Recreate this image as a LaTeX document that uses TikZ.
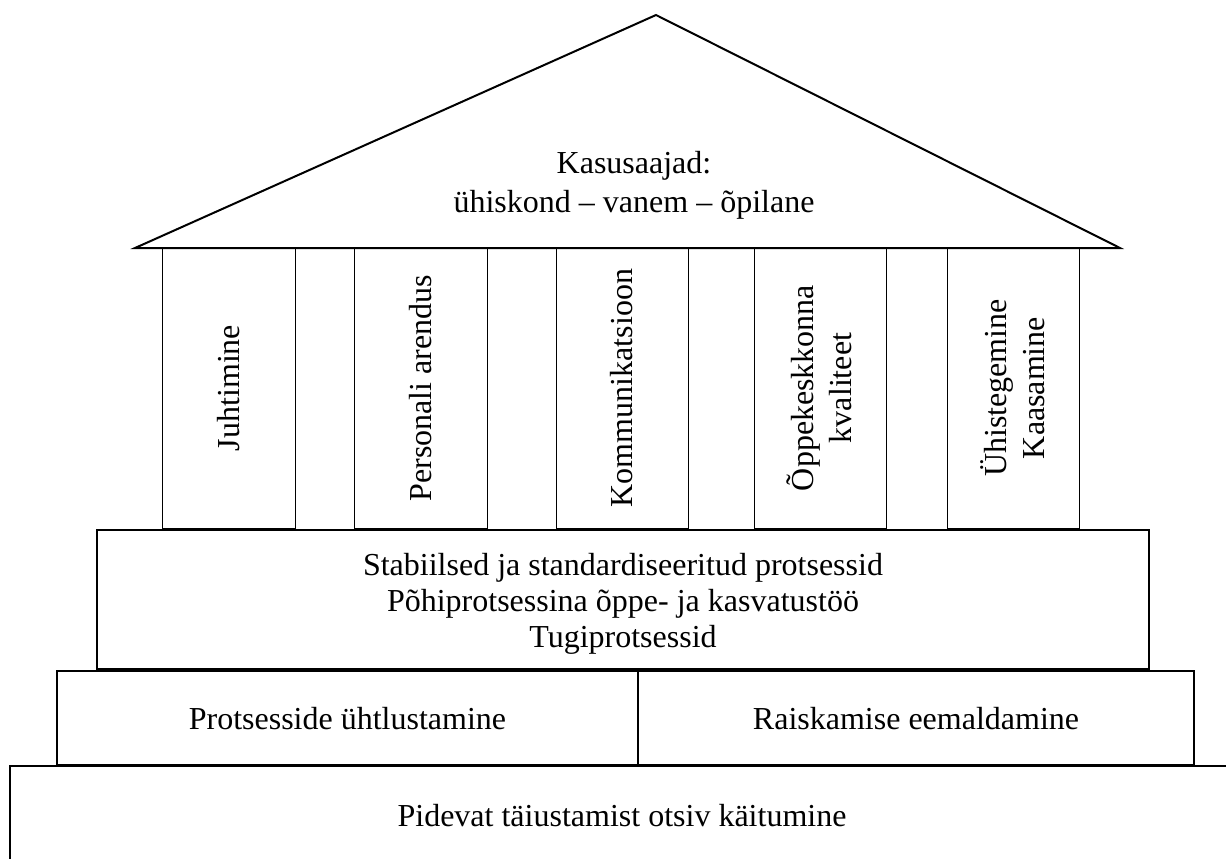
\documentclass[tikz,border=0pt]{standalone}
\usepackage{fontspec}
\setmainfont{Liberation Serif}
\def \globalscale {0.750000}
\tikzset{
  roofline/.style={draw=black,line width=1.5pt,miter limit=10.0},
  pillar/.style={draw=black,line width=0.75pt},
  slab/.style={draw=black,line width=1.1pt},
  pillartext/.style={text=black,rotate=90,align=center,font=\fontsize{24}{28.5}\selectfont}
}

\begin{document}
\begin{tikzpicture}[y=-\globalscale pt, x=\globalscale pt, every node/.append style={font=\fontsize{24}{27}\selectfont}, inner sep=0pt, outer sep=0pt]
  \useasboundingbox (0, 0) rectangle (1226, 858);

  % roof
  \path[roofline] (135, 248) -- (656, 15) -- (1120, 248) -- cycle;
  \node[text=black,align=center,font=\fontsize{24}{29}\selectfont] (textroof) at (634, 185) {Kasusaajad:\\ühiskond – vanem – õpilane};

  % pillars
  \path[pillar] (162.7, 248) rectangle (295, 528);
  \node[pillartext] (textjuht) at (228.8, 388) {Juhtimine};

  \path[pillar] (354, 248) rectangle (487, 528);
  \node[pillartext] (textpers) at (420.5, 388) {Personali arendus};

  \path[pillar] (556, 248) rectangle (688, 528);
  \node[pillartext] (textkomm) at (622, 388) {Kommunikatsioon};

  \path[pillar] (754, 248) rectangle (886, 528);
  \node[pillartext] (textoppe) at (819, 388) {Õppekeskkonna\\kvaliteet};

  \path[pillar] (947, 248) rectangle (1079, 528);
  \node[pillartext] (textyhis) at (1013, 388) {Ühistegemine\\Kaasamine};

  % roof base over the pillar tops
  \path[roofline] (135, 248) -- (1120, 248);

  % processes
  \path[slab] (97, 530) rectangle (1149, 669);
  \node[text=black,align=center] (textprots) at (623, 603.5) {Stabiilsed ja standardiseeritud protsessid\\Põhiprotsessina õppe- ja kasvatustöö\\Tugiprotsessid};

  % second row
  \path[slab] (57, 671) rectangle (638, 765);
  \node[text=black,anchor=base] (textyht) at (347.5, 729) {Protsesside ühtlustamine};

  \path[slab] (638, 671) rectangle (1194, 765);
  \node[text=black,anchor=base] (textrais) at (916, 729) {Raiskamise eemaldamine};

  % foundation
  \path[slab] (10, 766) rectangle (1240, 880);
  \node[text=black,anchor=base] (textpidev) at (622, 826.7) {Pidevat täiustamist otsiv käitumine};

\end{tikzpicture}
\end{document}
